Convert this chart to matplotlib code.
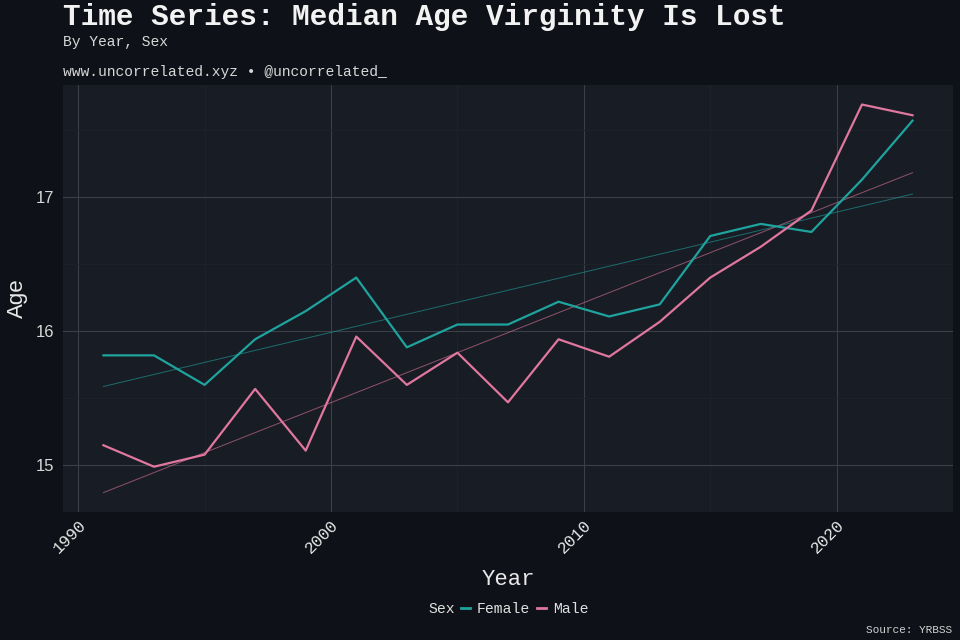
import numpy as np
import matplotlib
matplotlib.use("Agg")
import matplotlib.pyplot as plt
from matplotlib.lines import Line2D
from matplotlib.ticker import MultipleLocator

years = [1991, 1993, 1995, 1997, 1999, 2001, 2003, 2005, 2007, 2009,
         2011, 2013, 2015, 2017, 2019, 2021, 2023]
female = [15.82, 15.82, 15.60, 15.94, 16.15, 16.40, 15.88, 16.05, 16.05, 16.22,
          16.11, 16.20, 16.71, 16.80, 16.74, 17.13, 17.57]
male = [15.15, 14.99, 15.08, 15.57, 15.11, 15.96, 15.60, 15.84, 15.47, 15.94,
        15.81, 16.07, 16.40, 16.63, 16.90, 17.69, 17.61]

sexes = ["Female", "Male"]
colors = {"Female": "#1fa39e", "Male": "#e0779f"}
series = {"Female": female, "Male": male}

fig_bg = "#0e1117"
panel_bg = "#181c24"
mono = ["Liberation Mono", "DejaVu Sans Mono"]
sans = ["Liberation Sans", "DejaVu Sans"]

fig = plt.figure(figsize=(9.6, 6.4), dpi=100, facecolor=fig_bg)
ax = fig.add_axes([0.0656, 0.2, 0.9271, 0.667])
ax.set_facecolor(panel_bg)

x = np.array(years, dtype=float)
all_y = []
for s in sexes:
    y = np.array(series[s])
    ax.plot(x, y, color=colors[s], lw=1.6, zorder=3)
    k, b = np.polyfit(x, y, 1)
    fit = k * x + b
    ax.plot(x, fit, color=colors[s], lw=0.7, alpha=0.6, zorder=2)
    all_y.extend(y)
    all_y.extend(fit)

ymin, ymax = min(all_y), max(all_y)
pad = (ymax - ymin) * 0.05
ax.set_ylim(ymin - pad, ymax + pad)
xpad = (x.max() - x.min()) * 0.05
ax.set_xlim(x.min() - xpad, x.max() + xpad)

ax.xaxis.set_major_locator(MultipleLocator(10))
ax.xaxis.set_minor_locator(MultipleLocator(5))
ax.yaxis.set_major_locator(MultipleLocator(1))
ax.yaxis.set_minor_locator(MultipleLocator(0.5))
ax.grid(which="major", color="#3a3f48", lw=0.8, zorder=0)
ax.grid(which="minor", color="#1f232b", lw=0.6, zorder=0)
ax.set_axisbelow(True)
for sp in ax.spines.values():
    sp.set_visible(False)
ax.tick_params(which="both", length=0)
ax.tick_params(axis="x", pad=4, colors="#e8e8e8")
ax.tick_params(axis="y", pad=6, colors="#d8d8d8")

for lab in ax.get_xticklabels():
    lab.set_fontfamily(mono)
    lab.set_fontsize(12)
    lab.set_rotation(45)
    lab.set_ha("right")
    lab.set_va("top")
    lab.set_rotation_mode("anchor")
for lab in ax.get_yticklabels():
    lab.set_fontfamily(sans)
    lab.set_fontsize(12)

ax.set_xlabel("Year", family=mono, fontsize=16, color="#e8e8e8", labelpad=9)
ax.set_ylabel("Age", family=sans, fontsize=16, color="#e8e8e8", labelpad=6)

fig.text(0.066, 0.995, "Time Series: Median Age Virginity Is Lost", family=mono,
         fontsize=21.2, weight="bold", color="#f2f2f2", va="top", ha="left")
fig.text(0.066, 0.946, "By Year, Sex", family=mono, fontsize=10.5,
         color="#d8d8d8", va="top", ha="left")
fig.text(0.066, 0.898, "www.uncorrelated.xyz \u2022 @uncorrelated_", family=mono,
         fontsize=10.5, color="#d8d8d8", va="top", ha="left")
fig.text(0.992, 0.016, "Source: YRBSS", family=mono, fontsize=8,
         color="#d0d0d0", va="center", ha="right")

handles = [Line2D([], [], color=colors[s], lw=2) for s in sexes]
fig.text(0.474, 0.048, "Sex", family=mono, fontsize=10.6, color="#e0e0e0",
         va="center", ha="right")
leg = fig.legend(handles, sexes, loc="center left", bbox_to_anchor=(0.480, 0.048),
                 ncol=2, frameon=False, handlelength=0.65, handletextpad=0.45,
                 columnspacing=0.45, borderaxespad=0, borderpad=0,
                 prop={"family": mono, "size": 10.6})
for t in leg.get_texts():
    t.set_color("#e0e0e0")

fig.savefig("out.png", dpi=100, facecolor=fig_bg)
